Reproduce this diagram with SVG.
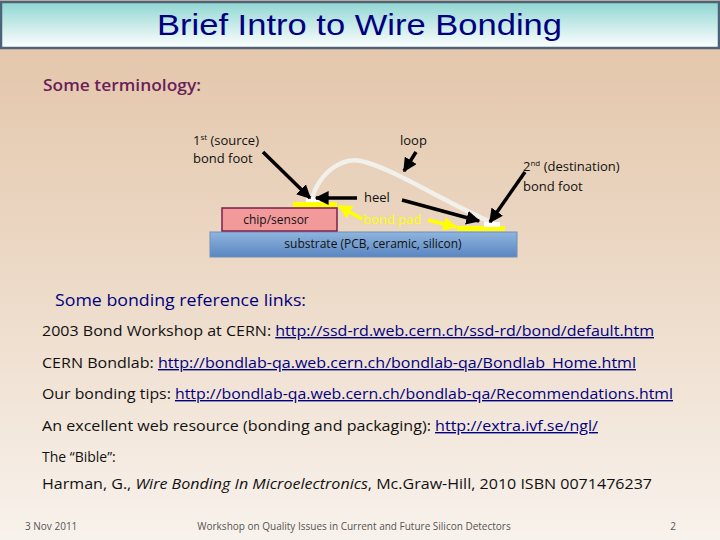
<svg xmlns="http://www.w3.org/2000/svg" width="720" height="540" viewBox="0 0 720 540">
<defs>
<linearGradient id="bg" x1="0" y1="0" x2="0" y2="1"><stop offset="0" stop-color="#e2c3a6"/><stop offset="0.5" stop-color="#ecd9c6"/><stop offset="1" stop-color="#f8f2ec"/></linearGradient>
<linearGradient id="tb" x1="0" y1="0" x2="0" y2="1"><stop offset="0" stop-color="#8fd6d2"/><stop offset="1" stop-color="#ffffff"/></linearGradient>
<linearGradient id="sub" x1="0" y1="0" x2="0" y2="1"><stop offset="0" stop-color="#8fb4de"/><stop offset="1" stop-color="#5a86c0"/></linearGradient>
<marker id="ah" viewBox="0 0 10 10" refX="9" refY="5" markerWidth="4" markerHeight="4" orient="auto"><path d="M0,0 L10,5 L0,10 z" fill="#000"/></marker>
<marker id="ay" viewBox="0 0 10 10" refX="9" refY="5" markerWidth="4" markerHeight="4" orient="auto"><path d="M0,0 L10,5 L0,10 z" fill="#ffff00"/></marker>
<style>
.t{font-family:"Liberation Sans",Arial,sans-serif}
.c{font-family:"Open Sans","Liberation Sans",sans-serif}
.lbl{font-size:13px;fill:#111}
.body{font-size:14px;fill:#111}
.lnk{text-decoration:underline}
.ar{stroke:#000;stroke-width:3.5;fill:none;marker-end:url(#ah)}
.ay{stroke:#ffff00;stroke-width:3.5;fill:none;marker-end:url(#ay)}
</style>
</defs>
<rect width="720" height="540" fill="url(#bg)"/>
<g id="title"><rect x="1" y="2" width="718" height="46" fill="url(#tb)" stroke="#4d6478" stroke-width="2.5"/>
<text class="t" x="157" y="35" font-size="29" fill="#000080" textLength="405" lengthAdjust="spacingAndGlyphs">Brief Intro to Wire Bonding</text></g>
<text class="c" x="43" y="91" font-size="16" font-weight="600" fill="#6b1f5a" textLength="158" lengthAdjust="spacingAndGlyphs">Some terminology:</text>

<g id="substrate"><rect x="210" y="232" width="307" height="25" fill="url(#sub)" stroke="#6d8fb8"/>
<text class="c" x="373" y="248" text-anchor="middle" font-size="12" fill="#111">substrate (PCB, ceramic, silicon)</text></g>
<g id="chip"><rect x="222" y="208" width="115" height="23" fill="#f29a9a" stroke="#7a1f4a" stroke-width="1.5"/>
<text class="c" x="276" y="224" text-anchor="middle" font-size="12" fill="#111">chip/sensor</text></g>
<g id="pads"><rect x="293" y="202" width="44" height="5" fill="#ffff00"/><rect x="457" y="226" width="48" height="5" fill="#ffff00"/></g>
<g id="wire"><path d="M311,201 C320,170 345,155 365,162 C400,172 440,200 495,224" fill="none" stroke="#f2f0ea" stroke-width="4.5"/>
<rect x="306" y="197" width="14" height="5" fill="#fff"/><rect x="484" y="222" width="16" height="5" fill="#fff"/></g>

<g id="labels">
<text class="c lbl" x="193" y="145">1<tspan font-size="8" dy="-5">st</tspan><tspan dy="5"> (source)</tspan></text>
<text class="c lbl" x="193" y="163">bond foot</text>
<text class="c lbl" x="400" y="145">loop</text>
<text class="c lbl" x="364" y="202">heel</text>
<text class="c" x="363" y="224" font-size="13" fill="#ffff00">bond pad</text>
<text class="c lbl" x="523" y="171">2<tspan font-size="8" dy="-5">nd</tspan><tspan dy="5">  (destination)</tspan></text>
<text class="c lbl" x="523" y="191">bond foot</text>
</g>
<g id="connectors">
<line class="ar" x1="263" y1="152" x2="310" y2="198"/>
<line class="ar" x1="416" y1="152" x2="404" y2="171"/>
<line class="ar" x1="357" y1="198" x2="316" y2="198"/>
<line class="ar" x1="402" y1="200" x2="479" y2="221"/>
<line class="ar" x1="525" y1="172" x2="490" y2="222"/>
<line class="ay" x1="362" y1="219" x2="339" y2="206"/>
<line class="ay" x1="428" y1="220" x2="456" y2="227"/>
</g>

<g id="links">
<text class="c" x="55" y="306" font-size="16" fill="#000080" textLength="251" lengthAdjust="spacingAndGlyphs">Some bonding reference links:</text>
<text class="c body" x="42" y="336" textLength="612" lengthAdjust="spacingAndGlyphs">2003 Bond Workshop at CERN: <tspan fill="#000080" class="lnk">http://ssd-rd.web.cern.ch/ssd-rd/bond/default.htm</tspan></text>
<text class="c body" x="42" y="368" textLength="594" lengthAdjust="spacingAndGlyphs">CERN Bondlab: <tspan fill="#000080" class="lnk">http://bondlab-qa.web.cern.ch/bondlab-qa/Bondlab_Home.html</tspan></text>
<text class="c body" x="42" y="399" textLength="631" lengthAdjust="spacingAndGlyphs">Our bonding tips: <tspan fill="#000080" class="lnk">http://bondlab-qa.web.cern.ch/bondlab-qa/Recommendations.html</tspan></text>
<text class="c body" x="42" y="431" textLength="556" lengthAdjust="spacingAndGlyphs">An excellent web resource (bonding and packaging): <tspan fill="#000080" class="lnk">http://extra.ivf.se/ngl/</tspan></text>
<text class="c body" x="42" y="462">The “Bible”:</text>
<text class="c body" x="42" y="489" fill="#000080" textLength="610" lengthAdjust="spacingAndGlyphs">Harman, G., <tspan font-style="italic">Wire Bonding In Microelectronics</tspan>, Mc.Graw-Hill, 2010 ISBN 0071476237</text>
</g>
<g id="footer">
<text class="c" x="25" y="530" font-size="10" fill="#555">3 Nov 2011</text>
<text class="c" x="354" y="530" font-size="10" fill="#555" text-anchor="middle">Workshop on Quality Issues in Current and Future Silicon Detectors</text>
<text class="c" x="673" y="530" font-size="10" fill="#555" text-anchor="middle">2</text>
</g>
</svg>
